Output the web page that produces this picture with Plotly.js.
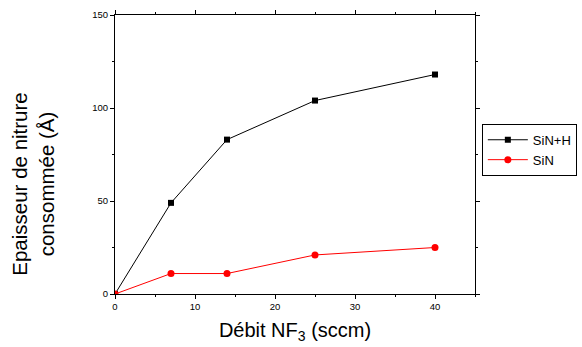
<!DOCTYPE html>
<html><head><meta charset="utf-8">
<script src="https://cdn.plot.ly/plotly-3.0.1.min.js"></script>
<style>body{margin:0;background:#fff}#c{width:582px;height:347px}</style>
</head><body><div id="c"></div>
<script>
const flow = [0, 7, 14, 25, 40];
const sinH = [0, 49, 83, 104, 118];
const sin = [0, 11, 11, 21, 25];
const names = ['SiN+H', 'SiN'];
const yTitle = 'Epaisseur de nitrure<br>consommée (Å)';
const xTitle = 'Débit NF<sub>3</sub> (sccm)';

const FONT = 'Liberation Sans, Arial, sans-serif';
const traces = [
  {x: flow, y: sinH, name: names[0], mode: 'lines+markers', type: 'scatter',
   line: {color: '#000', width: 1}, marker: {symbol: 'square', size: 6, color: '#000'}},
  {x: flow, y: sin, name: names[1], mode: 'lines+markers', type: 'scatter',
   line: {color: '#ff0000', width: 1}, marker: {symbol: 'circle', size: 7, color: '#ff0000'}}
];
const ax = {showgrid: false, zeroline: false, showline: true, linecolor: '#000', linewidth: 1,
  ticks: 'outside', ticklen: 4, tickcolor: '#000', mirror: 'ticks',
  tickfont: {family: FONT, size: 9.5, color: '#000'}};
const layout = {
  width: 582, height: 347, paper_bgcolor: '#fff', plot_bgcolor: '#fff',
  margin: {l: 115, r: 107, t: 15, b: 53, autoexpand: false},
  showlegend: true,
  legend: {x: 1.019, y: 0.61, xanchor: 'left', yanchor: 'top', bordercolor: '#000', borderwidth: 1,
    font: {family: FONT, size: 13, color: '#000'}, tracegroupgap: 0, itemwidth: 40},
  xaxis: Object.assign({}, ax, {range: [0, 45], tickvals: [0, 10, 20, 30, 40],
    minor: {dtick: 5, tick0: 0, ticks: 'outside', ticklen: 2, tickcolor: '#000'},
    title: {text: xTitle, standoff: 11, font: {family: FONT, size: 20, color: '#000'}}}),
  yaxis: Object.assign({}, ax, {range: [0, 150], tickvals: [0, 50, 100, 150],
    minor: {dtick: 25, tick0: 0, ticks: 'outside', ticklen: 2, tickcolor: '#000'}}),
  annotations: [{text: yTitle, xref: 'paper', yref: 'paper', x: -0.228, y: 0.395,
    xanchor: 'center', yanchor: 'middle', textangle: -90, showarrow: false,
    font: {family: FONT, size: 20.5, color: '#000'}}]
};
Plotly.newPlot('c', traces, layout, {displayModeBar: false, staticPlot: true});
</script></body></html>
